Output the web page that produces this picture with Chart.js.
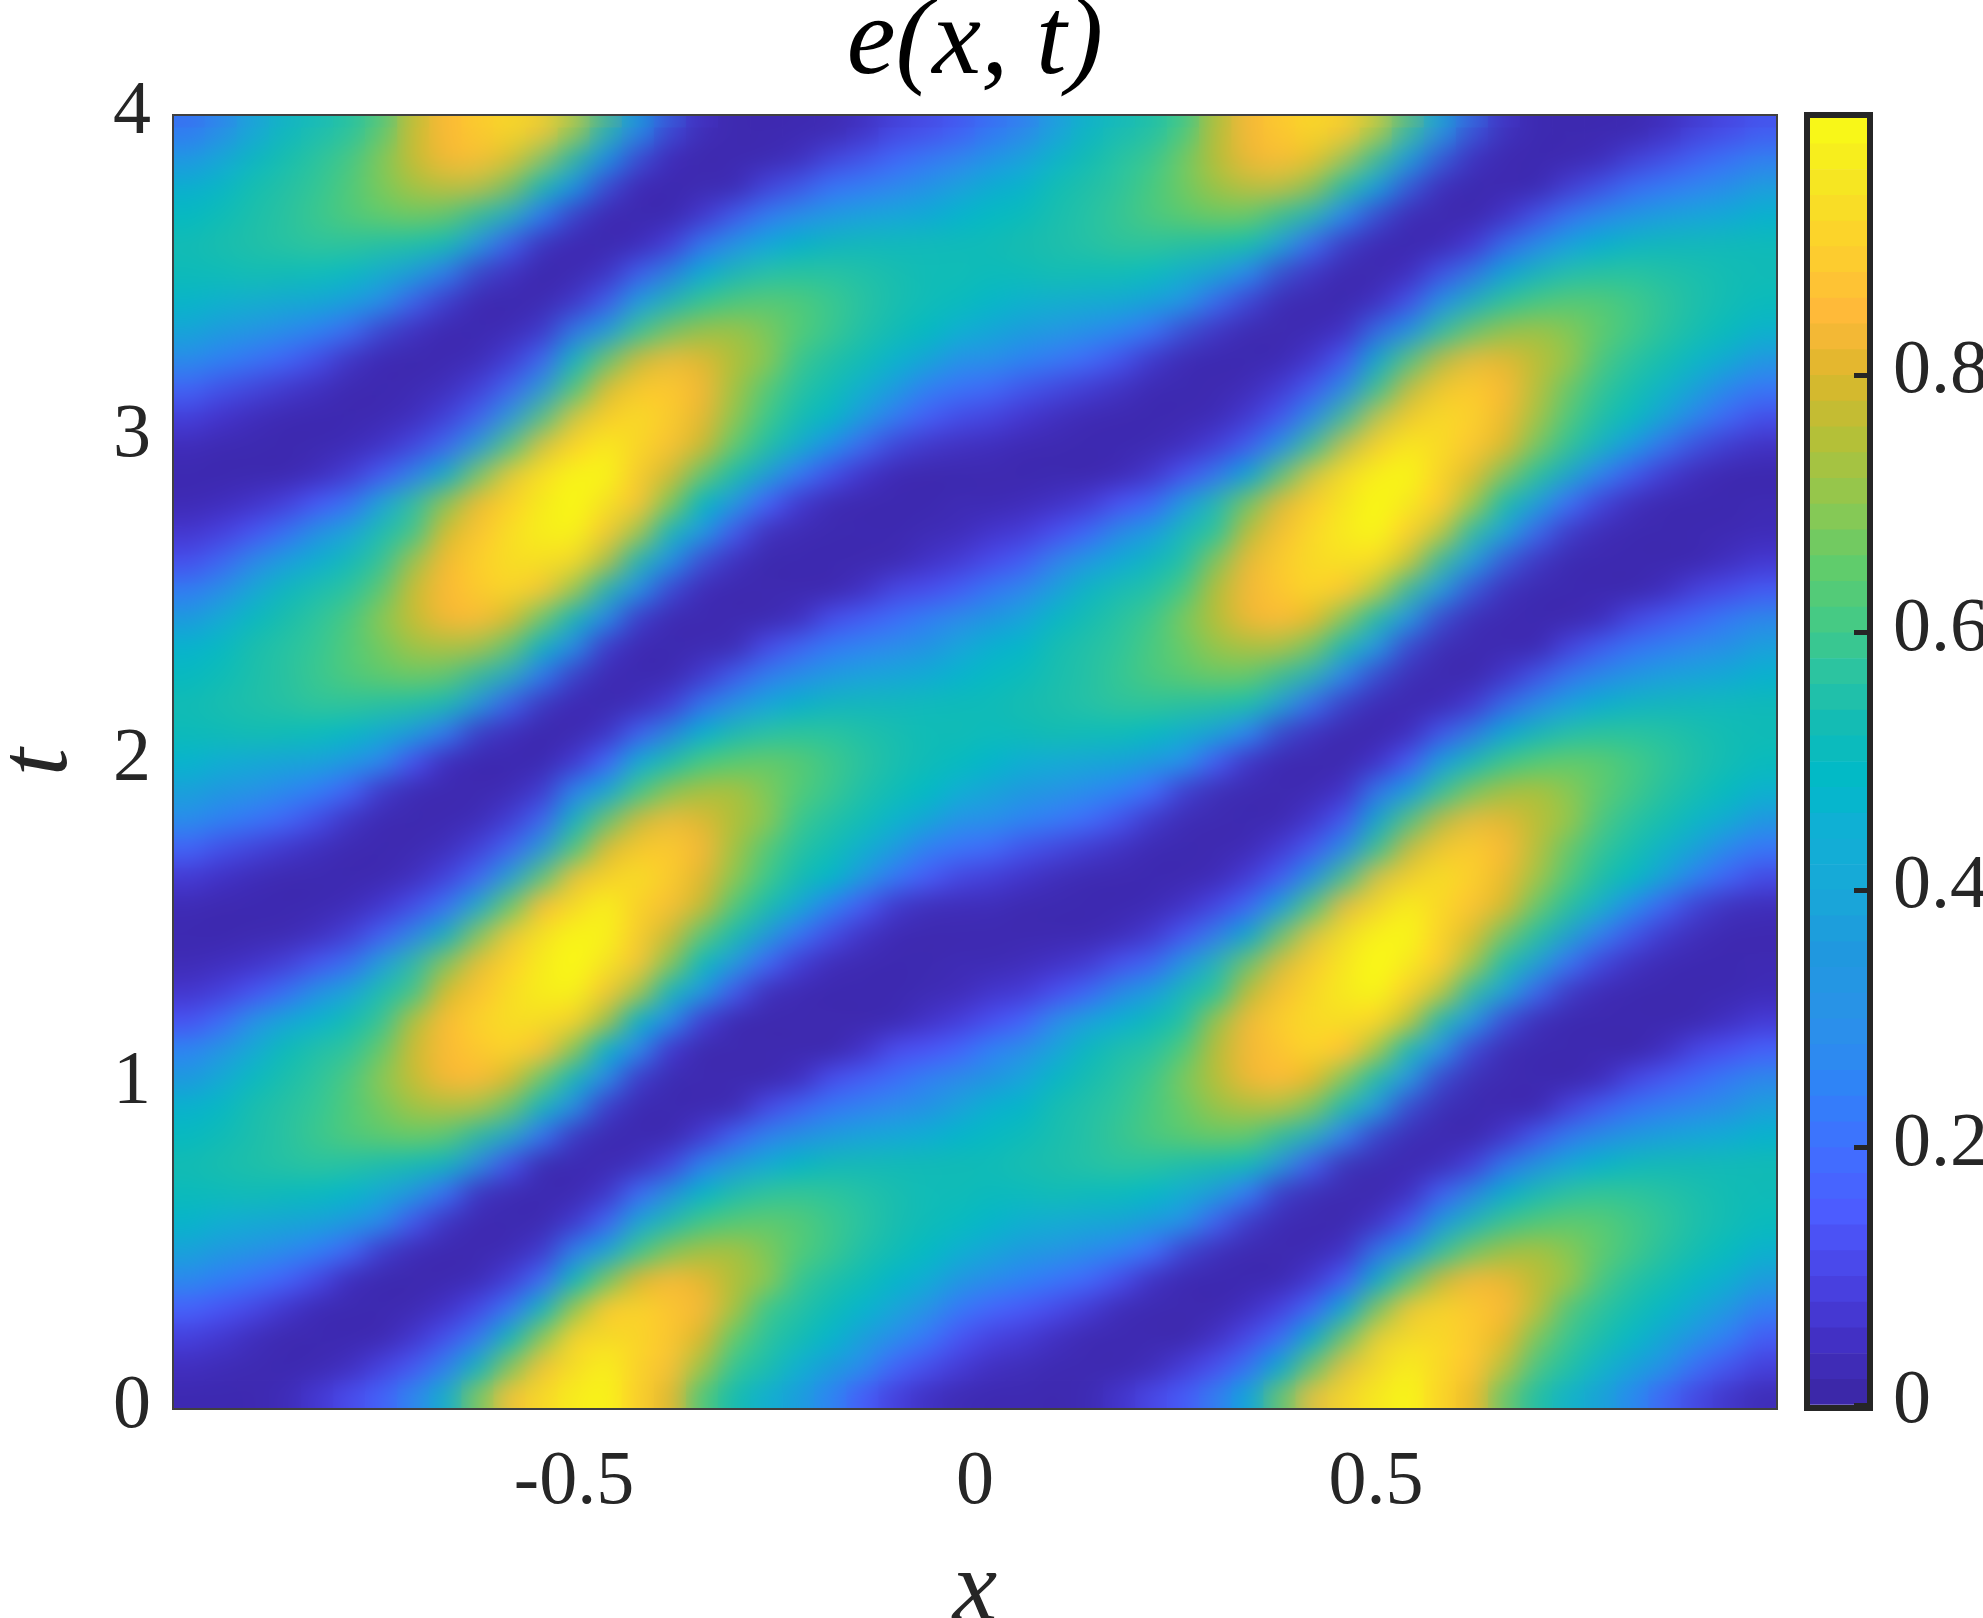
<!DOCTYPE html>
<html>
<head>
<meta charset="utf-8">
<title>e(x,t)</title>
<script src="https://cdn.jsdelivr.net/npm/chart.js@4"></script>
<style>
  html, body { margin: 0; background: #fff; }
  canvas { position: absolute; top: 0; }
  #field { left: 0; }
  #bar { left: 1790px; }
</style>
</head>
<body>
<canvas id="field" width="1790" height="1618"></canvas>
<canvas id="bar" width="193" height="1618"></canvas>
<script>
// tick labels
const xTicks = [-0.5, 0, 0.5];
const yTicks = [0, 1, 2, 3, 4];
const barTicks = [0, 0.2, 0.4, 0.6, 0.8];

// cell centres along x, height of one row along t
const xCells = [-0.98,-0.94,-0.9,-0.86,-0.82,-0.78,-0.74,-0.7,-0.66,-0.62,-0.58,-0.54,-0.5,-0.46,-0.42,-0.38,-0.34,-0.3,-0.26,-0.22,-0.18,-0.14,-0.1,-0.06,-0.02,
  0.02,0.06,0.1,0.14,0.18,0.22,0.26,0.3,0.34,0.38,0.42,0.46,0.5,0.54,0.58,0.62,0.66,0.7,0.74,0.78,0.82,0.86,0.9,0.94,0.98];
const rowHeight = 0.088;

// e(x,t) in percent, bottom row first
const fieldRows = [
[2,2,2,3,7,12,17,27,46,68,86,92,97,99,90,81,62,53,44,36,24,14,8,4,2,2,2,2,3,7,12,17,27,46,68,86,92,97,99,90,81,62,53,44,36,24,14,8,4,2],
[4,3,2,2,2,4,9,14,24,49,69,86,93,98,91,86,72,58,54,45,36,27,16,11,7,4,3,2,2,2,4,9,14,24,49,69,86,93,98,91,86,72,58,54,45,36,27,16,11,7],
[9,7,4,2,2,2,2,6,12,22,50,69,90,93,92,88,80,65,57,53,47,37,28,21,13,9,7,4,2,2,2,2,6,12,22,50,69,90,93,92,88,80,65,57,53,47,37,28,21,13],
[17,14,11,7,3,2,2,2,5,10,20,47,70,88,91,88,84,74,60,56,52,47,39,31,22,17,14,11,7,3,2,2,2,5,10,20,47,70,88,91,88,84,74,60,56,52,47,39,31,22],
[28,24,21,17,11,4,2,2,2,3,8,18,50,67,81,85,82,75,70,59,55,52,47,42,33,28,24,21,17,11,4,2,2,2,3,8,18,50,67,81,85,82,75,70,59,55,52,47,42,33],
[38,34,31,27,23,17,6,2,2,2,3,7,26,44,61,71,75,75,69,63,59,55,52,49,44,38,34,31,27,23,17,6,2,2,2,3,7,26,44,61,71,75,75,69,63,59,55,52,49,44],
[47,44,41,39,38,33,27,13,4,2,2,2,7,18,44,55,62,65,66,64,60,57,54,52,50,47,44,41,39,38,33,27,13,4,2,2,2,7,18,44,55,62,65,66,64,60,57,54,52,50],
[51,51,52,51,50,48,42,34,20,5,2,2,2,6,19,34,49,55,58,59,58,56,54,52,52,51,51,52,51,50,48,42,34,20,5,2,2,2,6,19,34,49,55,58,59,58,56,54,52,52],
[53,54,55,56,57,56,54,52,50,30,13,2,2,2,4,10,25,37,45,49,52,53,53,53,53,53,54,55,56,57,56,54,52,50,30,13,2,2,2,4,10,25,37,45,49,52,53,53,53,53],
[50,52,54,56,59,62,64,65,63,54,40,20,5,2,2,2,8,18,27,34,38,41,44,46,48,50,52,54,56,59,62,64,65,63,54,40,20,5,2,2,2,8,18,27,34,38,41,44,46,48],
[47,49,54,56,58,62,66,71,73,72,64,47,28,6,2,2,2,3,12,19,24,27,30,34,40,47,49,54,56,58,62,66,71,73,72,64,47,28,6,2,2,2,3,12,19,24,27,30,34,40],
[36,41,50,54,57,61,69,76,83,85,80,65,48,27,6,2,2,2,2,5,13,17,21,26,31,36,41,50,54,57,61,69,76,83,85,80,65,48,27,6,2,2,2,2,5,13,17,21,26,31],
[25,31,40,51,55,57,64,77,84,88,91,86,70,47,27,7,2,2,2,2,2,6,12,14,18,25,31,40,51,55,57,64,77,84,88,91,86,70,47,27,7,2,2,2,2,2,6,12,14,18],
[13,18,30,40,46,52,57,74,84,90,93,93,90,73,47,28,8,2,2,2,2,2,3,6,9,13,18,30,40,46,52,57,74,84,90,93,93,90,73,47,28,8,2,2,2,2,2,3,6,9],
[7,9,14,21,35,42,54,59,79,87,93,97,98,87,71,47,31,12,2,2,2,2,2,3,4,7,9,14,21,35,42,54,59,79,87,93,97,98,87,71,47,31,12,2,2,2,2,2,3,4],
[3,4,6,9,15,21,40,56,71,83,90,96,100,94,87,68,48,31,15,6,2,2,2,2,3,3,4,6,9,15,21,40,56,71,83,90,96,100,94,87,68,48,31,15,6,2,2,2,2,3],
[2,2,2,2,4,8,16,28,49,69,87,95,100,99,89,78,62,52,35,19,10,4,2,2,2,2,2,2,2,4,8,16,28,49,69,87,95,100,99,89,78,62,52,35,19,10,4,2,2,2],
[3,2,2,2,2,3,6,11,20,43,65,85,92,98,91,86,78,63,54,42,24,14,6,3,3,3,2,2,2,2,3,6,11,20,43,65,85,92,98,91,86,78,63,54,42,24,14,6,3,3],
[7,5,3,2,2,2,2,4,9,18,40,64,86,91,94,89,81,70,60,53,48,33,21,14,9,7,5,3,2,2,2,2,4,9,18,40,64,86,91,94,89,81,70,60,53,48,33,21,14,9],
[16,11,8,5,3,2,2,2,4,9,18,38,63,82,89,90,84,73,62,56,52,44,33,22,19,16,11,8,5,3,2,2,2,4,9,18,38,63,82,89,90,84,73,62,56,52,44,33,22,19],
[28,24,21,17,11,4,2,2,2,3,8,18,50,67,81,85,82,75,70,59,55,52,46,38,29,28,24,21,17,11,4,2,2,2,3,8,18,50,67,81,85,82,75,70,59,55,52,46,38,29],
[38,34,31,27,23,17,6,2,2,2,3,7,26,44,61,71,75,75,69,63,59,55,52,49,43,38,34,31,27,23,17,6,2,2,2,3,7,26,44,61,71,75,75,69,63,59,55,52,49,43],
[47,44,41,39,38,33,27,13,4,2,2,2,7,18,44,55,62,65,66,64,60,57,54,52,50,47,44,41,39,38,33,27,13,4,2,2,2,7,18,44,55,62,65,66,64,60,57,54,52,50],
[51,51,52,51,50,48,42,34,20,5,2,2,2,6,19,34,49,55,58,59,58,56,54,52,52,51,51,52,51,50,48,42,34,20,5,2,2,2,6,19,34,49,55,58,59,58,56,54,52,52],
[53,54,55,56,57,56,54,52,50,30,13,2,2,2,4,10,25,37,45,49,52,53,53,53,53,53,54,55,56,57,56,54,52,50,30,13,2,2,2,4,10,25,37,45,49,52,53,53,53,53],
[50,52,54,56,59,62,64,65,63,54,40,20,5,2,2,2,8,18,27,34,38,41,44,46,48,50,52,54,56,59,62,64,65,63,54,40,20,5,2,2,2,8,18,27,34,38,41,44,46,48],
[47,49,54,56,58,62,66,71,73,72,64,47,28,6,2,2,2,3,12,19,24,27,30,34,40,47,49,54,56,58,62,66,71,73,72,64,47,28,6,2,2,2,3,12,19,24,27,30,34,40],
[36,41,50,54,57,61,69,76,83,85,80,65,48,27,6,2,2,2,2,5,13,17,21,26,31,36,41,50,54,57,61,69,76,83,85,80,65,48,27,6,2,2,2,2,5,13,17,21,26,31],
[25,31,40,51,55,57,64,77,84,88,91,86,70,47,27,7,2,2,2,2,2,6,12,14,18,25,31,40,51,55,57,64,77,84,88,91,86,70,47,27,7,2,2,2,2,2,6,12,14,18],
[13,18,30,40,46,52,57,74,84,90,93,93,90,73,47,28,8,2,2,2,2,2,3,6,9,13,18,30,40,46,52,57,74,84,90,93,93,90,73,47,28,8,2,2,2,2,2,3,6,9],
[7,9,14,21,35,42,54,59,79,87,93,97,98,87,71,47,31,12,2,2,2,2,2,3,4,7,9,14,21,35,42,54,59,79,87,93,97,98,87,71,47,31,12,2,2,2,2,2,3,4],
[3,4,6,9,15,21,40,56,71,83,90,96,100,94,87,68,48,31,15,6,2,2,2,2,3,3,4,6,9,15,21,40,56,71,83,90,96,100,94,87,68,48,31,15,6,2,2,2,2,3],
[2,2,2,2,4,8,16,28,49,69,87,95,100,99,89,78,62,52,35,19,10,4,2,2,2,2,2,2,2,4,8,16,28,49,69,87,95,100,99,89,78,62,52,35,19,10,4,2,2,2],
[3,2,2,2,2,3,6,11,20,43,65,85,92,98,91,86,78,63,54,42,24,14,6,3,3,3,2,2,2,2,3,6,11,20,43,65,85,92,98,91,86,78,63,54,42,24,14,6,3,3],
[7,5,3,2,2,2,2,4,9,18,40,64,86,91,94,89,81,70,60,53,48,33,21,14,9,7,5,3,2,2,2,2,4,9,18,40,64,86,91,94,89,81,70,60,53,48,33,21,14,9],
[16,11,8,5,3,2,2,2,4,9,18,38,63,82,89,90,84,73,62,56,52,44,33,22,19,16,11,8,5,3,2,2,2,4,9,18,38,63,82,89,90,84,73,62,56,52,44,33,22,19],
[28,24,21,17,11,4,2,2,2,3,8,18,50,67,81,85,82,75,70,59,55,52,46,38,29,28,24,21,17,11,4,2,2,2,3,8,18,50,67,81,85,82,75,70,59,55,52,46,38,29],
[38,34,31,27,23,17,6,2,2,2,3,7,26,44,61,71,75,75,69,63,59,55,52,49,43,38,34,31,27,23,17,6,2,2,2,3,7,26,44,61,71,75,75,69,63,59,55,52,49,43],
[47,44,41,39,38,33,27,13,4,2,2,2,7,18,44,55,62,65,66,64,60,57,54,52,50,47,44,41,39,38,33,27,13,4,2,2,2,7,18,44,55,62,65,66,64,60,57,54,52,50],
[51,51,52,51,50,48,42,34,20,5,2,2,2,6,19,34,49,55,58,59,58,56,54,52,52,51,51,52,51,50,48,42,34,20,5,2,2,2,6,19,34,49,55,58,59,58,56,54,52,52],
[53,54,55,56,57,56,54,52,50,30,13,2,2,2,4,10,25,37,45,49,52,53,53,53,53,53,54,55,56,57,56,54,52,50,30,13,2,2,2,4,10,25,37,45,49,52,53,53,53,53],
[50,52,54,56,59,62,64,65,63,54,40,20,5,2,2,2,8,18,27,34,38,41,44,46,48,50,52,54,56,59,62,64,65,63,54,40,20,5,2,2,2,8,18,27,34,38,41,44,46,48],
[47,49,54,56,58,62,66,71,73,72,64,47,28,6,2,2,2,3,12,19,24,27,30,34,40,47,49,54,56,58,62,66,71,73,72,64,47,28,6,2,2,2,3,12,19,24,27,30,34,40],
[36,41,50,54,57,61,69,76,83,85,80,65,48,27,6,2,2,2,2,5,13,17,21,26,31,36,41,50,54,57,61,69,76,83,85,80,65,48,27,6,2,2,2,2,5,13,17,21,26,31],
[25,31,40,51,55,57,64,77,84,88,91,86,70,47,27,7,2,2,2,2,2,6,12,14,18,25,31,40,51,55,57,64,77,84,88,91,86,70,47,27,7,2,2,2,2,2,6,12,14,18],
[13,18,30,40,46,52,57,74,84,90,93,93,90,73,47,28,8,2,2,2,2,2,3,6,9,13,18,30,40,46,52,57,74,84,90,93,93,90,73,47,28,8,2,2,2,2,2,3,6,9]
];

// levels of the colorbar, one band each
const barLevels = [0.01,0.03,0.05,0.07,0.09,0.11,0.13,0.15,0.17,0.19,0.21,0.23,0.25,0.27,0.29,0.31,0.33,0.35,0.37,0.39,0.41,0.43,0.45,0.47,0.49,
  0.51,0.53,0.55,0.57,0.59,0.61,0.63,0.65,0.67,0.69,0.71,0.73,0.75,0.77,0.79,0.81,0.83,0.85,0.87,0.89,0.91,0.93,0.95,0.97,0.99];
const barBand = 0.02;

// colormap
const mapStops = [0,0.05,0.1,0.15,0.2,0.25,0.3,0.35,0.4,0.45,0.485,0.53,0.57,0.6,0.65,0.7,0.75,0.8,0.845,0.9,0.95,1];
const mapColors = [[59,38,162],[66,48,196],[74,68,230],[76,92,255],[63,112,255],[47,132,246],[42,146,232],[32,152,223],[24,168,216],[15,176,212],[0,186,200],[20,188,180],[44,196,160],[63,201,138],[96,204,108],[142,200,80],[180,192,56],[220,183,44],[255,184,58],[253,208,44],[246,230,34],[249,251,21]];

function parula(v) {
  v = Math.min(1, Math.max(0, v));
  let i = 0;
  while (i < mapStops.length - 2 && v > mapStops[i + 1]) i++;
  const f = (v - mapStops[i]) / (mapStops[i + 1] - mapStops[i]);
  const c = mapColors[i].map((a, n) => Math.round(a + (mapColors[i + 1][n] - a) * f));
  return `rgb(${c[0]},${c[1]},${c[2]})`;
}

const serif = '"Liberation Serif", serif';
const ink = '#262626';

// same look as shading interp: cells are averaged down and stretched back up
const smoothField = {
  id: 'smoothField',
  afterDatasetsDraw(chart) {
    const a = chart.chartArea;
    const small = document.createElement('canvas');
    small.width = xCells.length;
    small.height = Math.round(4 / rowHeight);
    const s = small.getContext('2d');
    s.imageSmoothingEnabled = true;
    s.imageSmoothingQuality = 'high';
    s.drawImage(chart.canvas, a.left, a.top, a.width, a.height, 0, 0, small.width, small.height);
    const ctx = chart.ctx;
    ctx.save();
    ctx.imageSmoothingEnabled = true;
    ctx.imageSmoothingQuality = 'high';
    ctx.drawImage(small, a.left, a.top, a.width, a.height);
    ctx.restore();
  }
};

function frame(width, color, outside) {
  return {
    id: 'frame',
    afterDraw(chart) {
      const a = chart.chartArea;
      const ctx = chart.ctx;
      ctx.save();
      ctx.lineWidth = width;
      ctx.strokeStyle = color;
      ctx.strokeRect(a.left - outside, a.top - outside, a.width + 2 * outside, a.height + 2 * outside);
      ctx.restore();
    }
  };
}

new Chart(document.getElementById('field'), {
  type: 'bar',
  data: {
    datasets: fieldRows.map((row) => ({
      data: xCells.map((x) => ({ x: x, y: rowHeight })),
      backgroundColor: row.map((v) => parula(v / 100)),
      borderWidth: 0,
      barPercentage: 1,
      categoryPercentage: 1
    }))
  },
  plugins: [smoothField, frame(2, '#404040', 0)],
  options: {
    responsive: false,
    animation: false,
    layout: { padding: { left: 0, top: 0, right: 13, bottom: 0 } },
    plugins: {
      legend: { display: false },
      tooltip: { enabled: false },
      title: {
        display: true,
        text: 'e(x, t)',
        color: '#000',
        fullSize: false,
        font: { family: serif, style: 'italic', weight: 'normal', size: 110, lineHeight: 0.8 },
        padding: { top: 0, bottom: 27 }
      }
    },
    scales: {
      x: {
        type: 'linear',
        offset: false,
        stacked: true,
        min: -1,
        max: 1,
        afterBuildTicks: (s) => { s.ticks = xTicks.map((v) => ({ value: v })); },
        afterFit: (s) => { s.height = 209; },
        grid: { display: false, offset: false },
        border: { display: false },
        ticks: {
          autoSkip: false,
          maxRotation: 0,
          padding: 20,
          color: ink,
          font: { family: serif, size: 76 },
          callback: (v) => String(v)
        },
        title: {
          display: true,
          text: 'x',
          color: ink,
          font: { family: serif, style: 'italic', size: 100, lineHeight: 0.5 },
          padding: 0
        }
      },
      y: {
        stacked: true,
        min: 0,
        max: 4,
        afterBuildTicks: (s) => { s.ticks = yTicks.map((v) => ({ value: v })); },
        afterFit: (s) => { s.width = 173; },
        grid: { display: false },
        border: { display: false },
        ticks: {
          autoSkip: false,
          padding: 14,
          labelOffset: -2,
          color: ink,
          font: { family: serif, size: 76 },
          callback: (v) => String(v)
        },
        title: {
          display: true,
          text: 't',
          color: ink,
          font: { family: serif, style: 'italic', size: 100, lineHeight: 0.8 },
          padding: 0
        }
      }
    }
  }
});

new Chart(document.getElementById('bar'), {
  type: 'bar',
  data: {
    labels: ['e'],
    datasets: barLevels.map((v) => ({
      data: [barBand],
      backgroundColor: parula(v),
      borderWidth: 0,
      barPercentage: 1,
      categoryPercentage: 1
    }))
  },
  plugins: [frame(6, ink, 3)],
  options: {
    responsive: false,
    animation: false,
    layout: { padding: { left: 20, top: 118, right: 0, bottom: 213 } },
    plugins: { legend: { display: false }, tooltip: { enabled: false } },
    scales: {
      x: { display: false, stacked: true },
      y: {
        position: 'right',
        stacked: true,
        min: 0,
        max: 1,
        afterBuildTicks: (s) => { s.ticks = barTicks.map((v) => ({ value: v })); },
        afterFit: (s) => { s.width = 116; },
        border: { display: false },
        grid: { drawOnChartArea: false, tickLength: -13, tickWidth: 5, tickColor: ink, z: 1 },
        ticks: {
          autoSkip: false,
          padding: 39,
          labelOffset: -3,
          color: ink,
          font: { family: serif, size: 76 },
          callback: (v) => String(v)
        }
      }
    }
  }
});
</script>
</body>
</html>
